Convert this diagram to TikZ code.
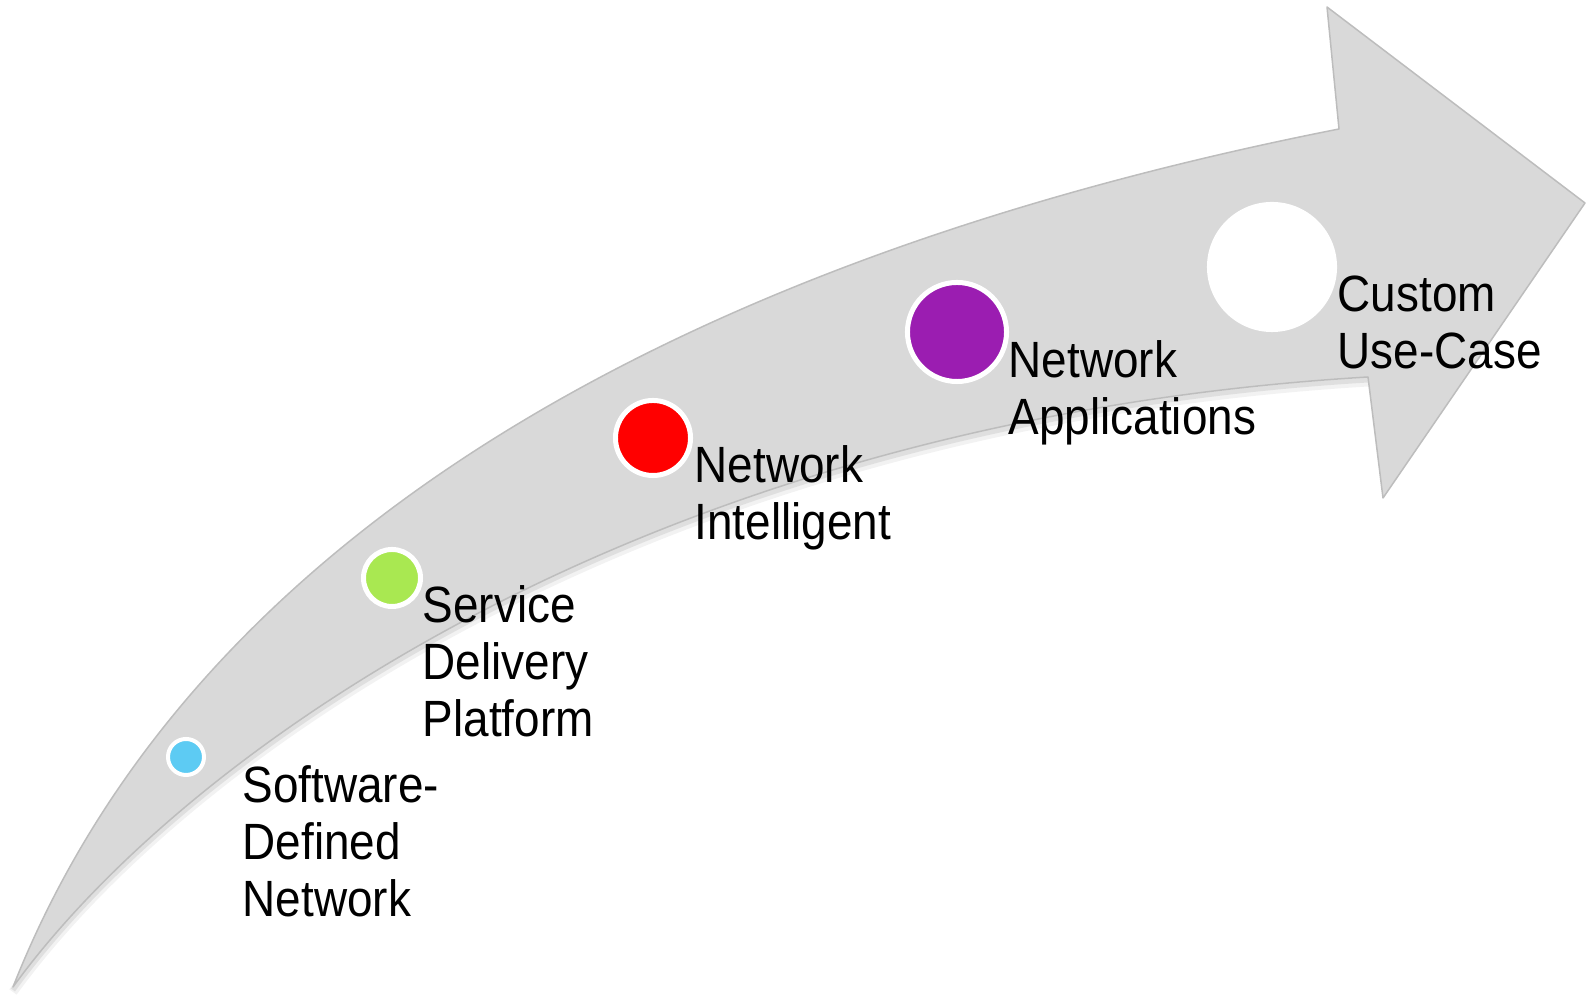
\documentclass[tikz,border=0pt]{standalone}
\usepackage{fontspec}
\setmainfont{Liberation Sans}[FakeStretch=0.9]
\definecolor{arrowgray}{HTML}{D9D9D9}
\definecolor{arrowline}{HTML}{BDBDBD}
\definecolor{dotcyan}{HTML}{5DCBF3}
\definecolor{dotgreen}{HTML}{A9E851}
\definecolor{dotpurple}{HTML}{9B1DB1}
\begin{document}
\begin{tikzpicture}
  [x=0.01cm,y=-0.01cm,
   dot/.style={circle,draw=white,inner sep=0pt},
   lbl/.style={anchor=north west,inner sep=0pt,align=left,
     font=\fontsize{14.5}{16.2}\selectfont}]
  \useasboundingbox (0,0) rectangle (1593,995);

  % soft shadow under the lower edge
  \draw[black,opacity=0.08,line width=0.05cm,yshift=-0.03cm]
    (1368,377) .. controls (650,420) and (185,750) .. (13,987);
  \draw[black,opacity=0.05,line width=0.09cm,yshift=-0.05cm]
    (1368,377) .. controls (650,420) and (185,750) .. (13,987);

  % the curved arrow
  \filldraw[fill=arrowgray,draw=arrowline,line width=0.015cm,line join=round]
    (13,987) .. controls (195,525) and (700,255) .. (1339,129)
    -- (1327,7) -- (1585,203) -- (1383,498) -- (1368,377)
    .. controls (650,420) and (185,750) .. (13,987) -- cycle;

  % milestones
  \node[dot,fill=dotcyan,line width=0.04cm,minimum size=0.36cm] (dotA) at (186,757) {};
  \node[dot,fill=dotgreen,line width=0.05cm,minimum size=0.57cm] (dotB) at (392,578) {};
  \node[dot,fill=red,line width=0.05cm,minimum size=0.75cm] (dotC) at (653,438) {};
  \node[dot,fill=dotpurple,line width=0.05cm,minimum size=0.99cm] (dotD) at (957,332) {};
  \node[circle,fill=white,inner sep=0pt,minimum size=1.30cm] (dotE) at (1272,267) {};

  \node[lbl] (sdn) at (242,765) {Software-\\Defined\\Network};
  \node[lbl] (sdp) at (422,585) {Service\\Delivery\\Platform};
  \node[lbl] (ni) at (694,445) {Network\\Intelligent};
  \node[lbl] (na) at (1008,340) {Network\\Applications};
  \node[lbl] (cuc) at (1337,275) {Custom\\Use-Case};
\end{tikzpicture}
\end{document}
